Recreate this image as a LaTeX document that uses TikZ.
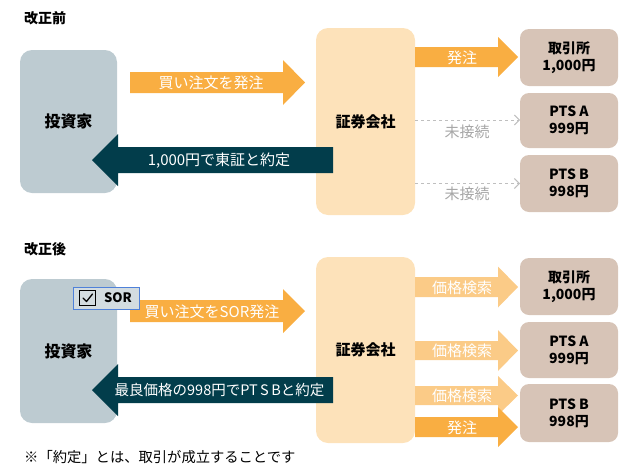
\documentclass[tikz,border=0pt]{standalone}
\usepackage{fontspec}
\setmainfont{Noto Sans CJK JP}
\usetikzlibrary{arrows.meta}
\definecolor{invc}{HTML}{BDCBD1}
\definecolor{secc}{HTML}{FDE2BA}
\definecolor{exc}{HTML}{D7C4B7}
\definecolor{orc}{HTML}{F9AE42}
\definecolor{lorc}{HTML}{FBCB87}
\definecolor{tealc}{HTML}{023D4B}
\definecolor{dashc}{HTML}{BFBFBF}
\definecolor{grtxt}{HTML}{A6A6A6}
\definecolor{sorfill}{HTML}{D3DCE0}
\definecolor{sorline}{HTML}{4F81D9}
\newcommand\barr[7]{%
  \fill[#7] (#1,#4-#5) -- (#2,#4-#5) -- (#2,#4-#6) -- (#3,#4) -- (#2,#4+#6) -- (#2,#4+#5) -- (#1,#4+#5) -- cycle;}
\newcommand\fs[1]{\fontsize{#1}{#1}\selectfont}
\begin{document}
\begin{tikzpicture}[x=1pt,y=-1pt,
  base/.style={inner sep=0pt, outer sep=0pt, rounded corners=12pt, align=center, font=\fs{16}\bfseries},
  invbox/.style={base, fill=invc, minimum width=97pt},
  secbox/.style={base, fill=secc, minimum width=99pt, font=\fs{15}\bfseries},
  exbox/.style={base, fill=exc, minimum width=98pt, rounded corners=9pt, font=\fs{14}\bfseries},
  atext/.style={text=white, font=\fs{15}, inner sep=0pt},
  title/.style={font=\fs{14}\bfseries, anchor=west, inner sep=0pt},
  dashline/.style={dashc, dashed, line width=1pt, -{Straight Barb[length=5pt,width=10pt]}},
  gtext/.style={text=grtxt, font=\fs{15}, inner sep=0pt}]
\useasboundingbox (0,0) rectangle (635,472);
% ---------- before ----------
\node[title] (t1) at (24,18) {改正前};
\node[invbox, minimum height=143pt] (inv1) at (68.5,121.5) {投資家};
\node[secbox, minimum height=187pt] (sec1) at (365.5,121.5) {証券会社};
\node[exbox, minimum height=57pt] (ex1) at (569,57.5) {取引所\\[3pt]1,000円};
\node[exbox, minimum height=55pt] (pa1) at (569,120.5) {PTS A\\[3pt]999円};
\node[exbox, minimum height=57pt] (pb1) at (569,183.5) {PTS B\\[3pt]998円};
\barr{130}{283}{305}{82.5}{10.5}{22.5}{orc}
\node[atext] (a1) at (211,82.5) {買い注文を発注};
\barr{333}{118}{92}{160}{13}{26}{tealc}
\node[atext] (a2) at (219,160.5) {1,000円で東証と約定};
\barr{415}{498}{518}{57}{10}{20}{orc}
\node[atext] (a3) at (462,57.5) {発注};
\coordinate (d1s) at (sec1.east |- pa1.west);
\draw[dashline] ([yshift=0.5pt]d1s) -- ([yshift=0.5pt]pa1.west);
\node[gtext] (u1) at (467,131.5) {未接続};
\coordinate (d2s) at (sec1.east |- pb1.west);
\draw[dashline] (d2s) -- (pb1.west);
\node[gtext] (u2) at (467,193.5) {未接続};
% ---------- after ----------
\node[title] (t2) at (24,249) {改正後};
\node[invbox, minimum height=144pt] (inv2) at (68.5,351) {投資家};
\node[secbox, minimum height=186pt] (sec2) at (365.5,350) {証券会社};
\node[exbox, minimum height=57pt] (ex2) at (569,286.5) {取引所\\[3pt]1,000円};
\node[exbox, minimum height=56pt] (pa2) at (569,350) {PTS A\\[3pt]999円};
\node[exbox, minimum height=58pt] (pb2) at (569,413) {PTS B\\[3pt]998円};
\barr{130}{283}{305}{311}{11}{22}{orc}
\node[atext] (a4) at (212,311.5) {買い注文をSOR発注};
\barr{333}{118}{92}{390}{13}{26}{tealc}
\node[atext, font=\fs{14.5}] (a5) at (219.5,390.5) {最良価格の998円でPT\,S\,Bと約定};
\barr{415}{498}{518}{287}{10}{20.5}{lorc}
\node[atext] (s1) at (462,287.5) {価格検索};
\barr{415}{498}{518}{350.5}{9.5}{20.5}{lorc}
\node[atext] (s2) at (462,351) {価格検索};
\barr{415}{498}{518}{395.5}{9.5}{19.5}{lorc}
\node[atext] (s3) at (462,396) {価格検索};
\barr{415}{498}{518}{427}{10}{20}{orc}
\node[atext] (a6) at (462,427.5) {発注};
% SOR checkbox
\node[draw=sorline, fill=sorfill, line width=1pt, minimum width=66pt, minimum height=22pt, inner sep=0pt] (sor) at (106,298) {};
\node[draw=black, fill=sorfill, line width=0.9pt, minimum width=16pt, minimum height=15pt, inner sep=0pt] (chk) at (87.5,298) {};
\draw[line width=1.3pt, line cap=round, line join=round] ([xshift=-4.5pt,yshift=0pt]chk.center) -- ([xshift=-1pt,yshift=-3.5pt]chk.center) -- ([xshift=5pt,yshift=4pt]chk.center);
\node[font=\fs{13}\bfseries, inner sep=0pt] (sort) at (118,298) {SOR};
% footnote
\node[font=\fs{14.3}, anchor=west, inner sep=0pt] (fn) at (24,457) {※「約定」とは、取引が成立することです};
\end{tikzpicture}
\end{document}
